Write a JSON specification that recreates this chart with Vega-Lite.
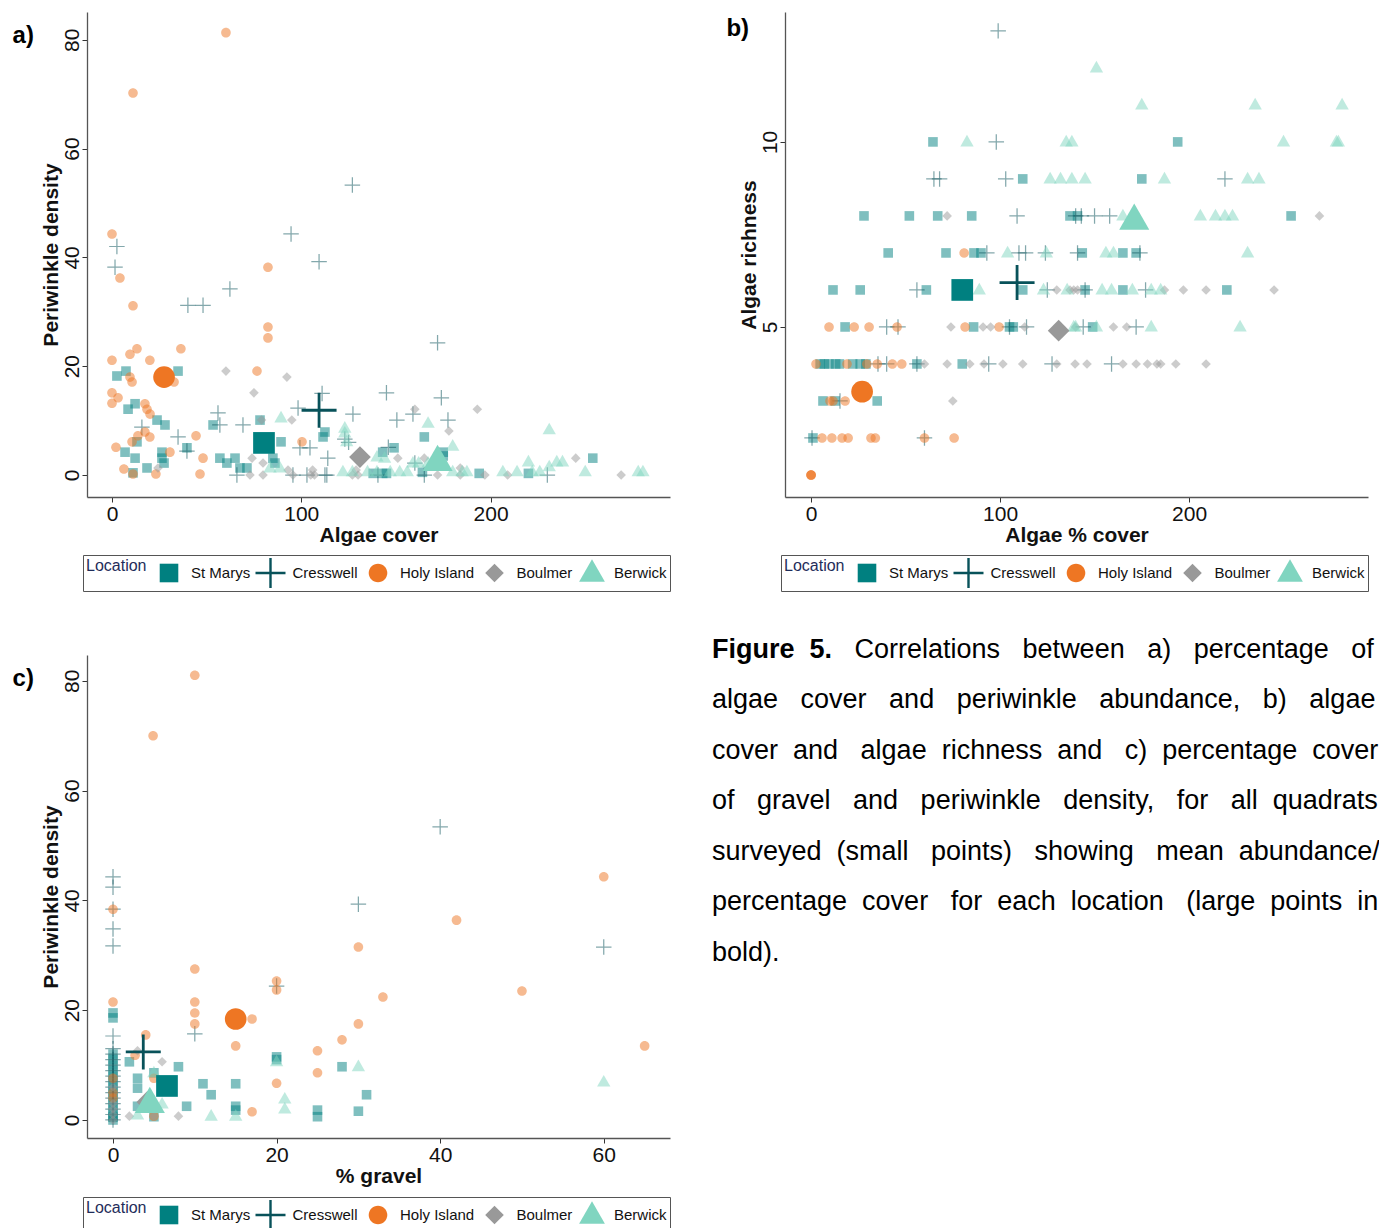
{
"$schema": "https://vega.github.io/schema/vega-lite/v6.json",
"padding": {"left": 12, "top": 12, "right": 0, "bottom": 0},
"background": "white",
"datasets": {
"a": [
{"l":"St Marys","x":2.6,"y":18.2,"k":0},{"l":"St Marys","x":7.4,"y":19.1,"k":0},{"l":"St Marys","x":34.9,"y":19.1,"k":0},{"l":"St Marys","x":8.5,"y":12.1,"k":0},{"l":"St Marys","x":12.2,"y":13.1,"k":0},{"l":"St Marys","x":23.8,"y":10.1,"k":0},{"l":"St Marys","x":28,"y":9.2,"k":0},{"l":"St Marys","x":13.2,"y":6.1,"k":0},{"l":"St Marys","x":39.6,"y":5,"k":0},{"l":"St Marys","x":53.4,"y":9.2,"k":0},{"l":"St Marys","x":78.2,"y":10.1,"k":0},{"l":"St Marys","x":89.3,"y":6.1,"k":0},{"l":"St Marys","x":112.5,"y":7.9,"k":0},{"l":"St Marys","x":111.5,"y":7,"k":0},{"l":"St Marys","x":57,"y":3.1,"k":0},{"l":"St Marys","x":60.7,"y":2.2,"k":0},{"l":"St Marys","x":65,"y":3.1,"k":0},{"l":"St Marys","x":67.6,"y":1.3,"k":0},{"l":"St Marys","x":71.3,"y":1.3,"k":0},{"l":"St Marys","x":86.1,"y":2.2,"k":0},{"l":"St Marys","x":85,"y":3.1,"k":0},{"l":"St Marys","x":6.9,"y":4.2,"k":0},{"l":"St Marys","x":12.2,"y":3.1,"k":0},{"l":"St Marys","x":18.5,"y":1.3,"k":0},{"l":"St Marys","x":26.4,"y":4.2,"k":0},{"l":"St Marys","x":27.5,"y":2.2,"k":0},{"l":"St Marys","x":26.4,"y":3.1,"k":0},{"l":"St Marys","x":11.1,"y":0.4,"k":0},{"l":"St Marys","x":165,"y":7,"k":0},{"l":"St Marys","x":149,"y":5,"k":0},{"l":"St Marys","x":143,"y":4.2,"k":0},{"l":"St Marys","x":175,"y":4.2,"k":0},{"l":"St Marys","x":175,"y":3.5,"k":0},{"l":"St Marys","x":138,"y":0.3,"k":0},{"l":"St Marys","x":143,"y":0.3,"k":0},{"l":"St Marys","x":145,"y":0.3,"k":0},{"l":"St Marys","x":194,"y":0.3,"k":0},{"l":"St Marys","x":220,"y":0.3,"k":0},{"l":"St Marys","x":164,"y":0.5,"k":0},{"l":"St Marys","x":254,"y":3.1,"k":0},
{"l":"Cresswell","x":2.6,"y":42,"k":0},{"l":"Cresswell","x":1.6,"y":38.2,"k":0},{"l":"Cresswell","x":94.6,"y":44.3,"k":0},{"l":"Cresswell","x":127,"y":53.3,"k":0},{"l":"Cresswell","x":62.3,"y":34.2,"k":0},{"l":"Cresswell","x":40.1,"y":31.2,"k":0},{"l":"Cresswell","x":48.1,"y":31.2,"k":0},{"l":"Cresswell","x":109.4,"y":39.2,"k":0},{"l":"Cresswell","x":15.8,"y":8.8,"k":0},{"l":"Cresswell","x":34.9,"y":7,"k":0},{"l":"Cresswell","x":56,"y":11.4,"k":0},{"l":"Cresswell","x":57,"y":9.2,"k":0},{"l":"Cresswell","x":69.2,"y":9.2,"k":0},{"l":"Cresswell","x":98.3,"y":12.3,"k":0},{"l":"Cresswell","x":127.3,"y":11.2,"k":0},{"l":"Cresswell","x":123,"y":6.6,"k":0},{"l":"Cresswell","x":125,"y":6,"k":0},{"l":"Cresswell","x":114,"y":3.1,"k":0},{"l":"Cresswell","x":99.3,"y":5,"k":0},{"l":"Cresswell","x":104.6,"y":5,"k":0},{"l":"Cresswell","x":39.6,"y":4.4,"k":0},{"l":"Cresswell","x":66,"y":0,"k":0},{"l":"Cresswell","x":95.6,"y":0,"k":0},{"l":"Cresswell","x":103,"y":0,"k":0},{"l":"Cresswell","x":112.5,"y":0,"k":0},{"l":"Cresswell","x":172,"y":24.3,"k":0},{"l":"Cresswell","x":145,"y":15.1,"k":0},{"l":"Cresswell","x":174,"y":14.2,"k":0},{"l":"Cresswell","x":150.5,"y":10.1,"k":0},{"l":"Cresswell","x":177.5,"y":10.1,"k":0},{"l":"Cresswell","x":159,"y":11.2,"k":0},{"l":"Cresswell","x":146,"y":5.1,"k":0},{"l":"Cresswell","x":160,"y":2.2,"k":0},{"l":"Cresswell","x":113.5,"y":0,"k":0},{"l":"Cresswell","x":140.5,"y":0,"k":0},{"l":"Cresswell","x":165,"y":0,"k":0},{"l":"Cresswell","x":230,"y":0,"k":0},{"l":"Cresswell","x":111,"y":15,"k":0},
{"l":"Holy Island","x":60.2,"y":81.3,"k":0},{"l":"Holy Island","x":11.1,"y":70.2,"k":0},{"l":"Holy Island","x":0,"y":44.3,"k":0},{"l":"Holy Island","x":4.2,"y":36.2,"k":0},{"l":"Holy Island","x":11.1,"y":31.1,"k":0},{"l":"Holy Island","x":82.4,"y":38.2,"k":0},{"l":"Holy Island","x":82.4,"y":27.2,"k":0},{"l":"Holy Island","x":82.4,"y":25.2,"k":0},{"l":"Holy Island","x":0,"y":21.1,"k":0},{"l":"Holy Island","x":9.5,"y":22.2,"k":0},{"l":"Holy Island","x":13.2,"y":23.2,"k":0},{"l":"Holy Island","x":20,"y":21.1,"k":0},{"l":"Holy Island","x":36.4,"y":23.2,"k":0},{"l":"Holy Island","x":9.5,"y":18,"k":0},{"l":"Holy Island","x":10.6,"y":17.1,"k":0},{"l":"Holy Island","x":32.8,"y":17.1,"k":0},{"l":"Holy Island","x":0,"y":15.1,"k":0},{"l":"Holy Island","x":3.2,"y":14.2,"k":0},{"l":"Holy Island","x":0,"y":13.2,"k":0},{"l":"Holy Island","x":17.4,"y":13.1,"k":0},{"l":"Holy Island","x":18.5,"y":12.1,"k":0},{"l":"Holy Island","x":20.1,"y":11.2,"k":0},{"l":"Holy Island","x":17.4,"y":7.9,"k":0},{"l":"Holy Island","x":20,"y":7,"k":0},{"l":"Holy Island","x":13.7,"y":7.2,"k":0},{"l":"Holy Island","x":10.6,"y":6.1,"k":0},{"l":"Holy Island","x":44.4,"y":7.2,"k":0},{"l":"Holy Island","x":2.1,"y":5.1,"k":0},{"l":"Holy Island","x":6.3,"y":1.1,"k":0},{"l":"Holy Island","x":11.1,"y":0.2,"k":0},{"l":"Holy Island","x":23.2,"y":0.2,"k":0},{"l":"Holy Island","x":30.6,"y":4.2,"k":0},{"l":"Holy Island","x":46.5,"y":0.2,"k":0},{"l":"Holy Island","x":48.1,"y":3.1,"k":0},{"l":"Holy Island","x":100.4,"y":6.1,"k":0},{"l":"Holy Island","x":76.6,"y":19.1,"k":0},
{"l":"Boulmer","x":60.2,"y":19.1,"k":0},{"l":"Boulmer","x":92.4,"y":18,"k":0},{"l":"Boulmer","x":75,"y":15.1,"k":0},{"l":"Boulmer","x":95,"y":10.1,"k":0},{"l":"Boulmer","x":79,"y":10.1,"k":0},{"l":"Boulmer","x":24.3,"y":1.3,"k":0},{"l":"Boulmer","x":74,"y":3.1,"k":0},{"l":"Boulmer","x":79.8,"y":2.2,"k":0},{"l":"Boulmer","x":72.9,"y":0,"k":0},{"l":"Boulmer","x":79.8,"y":0,"k":0},{"l":"Boulmer","x":93,"y":0.9,"k":0},{"l":"Boulmer","x":95.6,"y":0,"k":0},{"l":"Boulmer","x":106,"y":0.9,"k":0},{"l":"Boulmer","x":107,"y":0,"k":0},{"l":"Boulmer","x":129,"y":0.9,"k":0},{"l":"Boulmer","x":127,"y":0,"k":0},{"l":"Boulmer","x":160,"y":12.1,"k":0},{"l":"Boulmer","x":193,"y":12.1,"k":0},{"l":"Boulmer","x":178,"y":8.1,"k":0},{"l":"Boulmer","x":151,"y":3.1,"k":0},{"l":"Boulmer","x":165,"y":3.1,"k":0},{"l":"Boulmer","x":245,"y":3.1,"k":0},{"l":"Boulmer","x":105,"y":0,"k":0},{"l":"Boulmer","x":130,"y":0,"k":0},{"l":"Boulmer","x":172,"y":0,"k":0},{"l":"Boulmer","x":184,"y":0,"k":0},{"l":"Boulmer","x":197,"y":0,"k":0},{"l":"Boulmer","x":209,"y":0,"k":0},{"l":"Boulmer","x":269,"y":0,"k":0},{"l":"Boulmer","x":184,"y":1.3,"k":0},
{"l":"Berwick","x":89.3,"y":10.5,"k":0},{"l":"Berwick","x":123,"y":8.6,"k":0},{"l":"Berwick","x":123,"y":7.7,"k":0},{"l":"Berwick","x":124,"y":6.1,"k":0},{"l":"Berwick","x":83.5,"y":1.3,"k":0},{"l":"Berwick","x":88.7,"y":1.3,"k":0},{"l":"Berwick","x":122,"y":0.6,"k":0},{"l":"Berwick","x":167,"y":9.5,"k":0},{"l":"Berwick","x":231,"y":8.3,"k":0},{"l":"Berwick","x":180,"y":5.3,"k":0},{"l":"Berwick","x":140,"y":3.3,"k":0},{"l":"Berwick","x":144,"y":3.1,"k":0},{"l":"Berwick","x":159,"y":2.2,"k":0},{"l":"Berwick","x":162,"y":2.2,"k":0},{"l":"Berwick","x":167,"y":2.2,"k":0},{"l":"Berwick","x":220,"y":2.4,"k":0},{"l":"Berwick","x":235,"y":2.4,"k":0},{"l":"Berwick","x":238,"y":2.4,"k":0},{"l":"Berwick","x":231,"y":1.5,"k":0},{"l":"Berwick","x":127,"y":0.6,"k":0},{"l":"Berwick","x":135,"y":0.6,"k":0},{"l":"Berwick","x":140,"y":0.6,"k":0},{"l":"Berwick","x":147,"y":0.6,"k":0},{"l":"Berwick","x":152,"y":0.6,"k":0},{"l":"Berwick","x":156,"y":0.6,"k":0},{"l":"Berwick","x":180,"y":0.6,"k":0},{"l":"Berwick","x":185,"y":0.6,"k":0},{"l":"Berwick","x":187.5,"y":0.6,"k":0},{"l":"Berwick","x":206.5,"y":0.6,"k":0},{"l":"Berwick","x":214,"y":0.6,"k":0},{"l":"Berwick","x":222,"y":0.6,"k":0},{"l":"Berwick","x":226,"y":0.6,"k":0},{"l":"Berwick","x":250,"y":0.6,"k":0},{"l":"Berwick","x":278,"y":0.6,"k":0},{"l":"Berwick","x":280.5,"y":0.6,"k":0},
{"l":"St Marys","x":80.3,"y":5.9,"k":1},{"l":"Cresswell","x":109.4,"y":11.9,"k":1},{"l":"Holy Island","x":27.5,"y":18,"k":1},{"l":"Boulmer","x":131,"y":3.3,"k":1},{"l":"Berwick","x":172,"y":2.6,"k":1}
],
"b": [
{"l":"St Marys","x":64.5,"y":10,"k":0},{"l":"St Marys","x":194,"y":10,"k":0},{"l":"St Marys","x":112,"y":9,"k":0},{"l":"St Marys","x":175,"y":9,"k":0},{"l":"St Marys","x":28,"y":8,"k":0},{"l":"St Marys","x":52,"y":8,"k":0},{"l":"St Marys","x":67,"y":8,"k":0},{"l":"St Marys","x":85,"y":8,"k":0},{"l":"St Marys","x":137,"y":8,"k":0},{"l":"St Marys","x":141,"y":8,"k":0},{"l":"St Marys","x":254,"y":8,"k":0},{"l":"St Marys","x":40.8,"y":7,"k":0},{"l":"St Marys","x":71.4,"y":7,"k":0},{"l":"St Marys","x":86.2,"y":7,"k":0},{"l":"St Marys","x":89.9,"y":7,"k":0},{"l":"St Marys","x":143.5,"y":7,"k":0},{"l":"St Marys","x":165,"y":7,"k":0},{"l":"St Marys","x":172,"y":7,"k":0},{"l":"St Marys","x":11.6,"y":6,"k":0},{"l":"St Marys","x":26,"y":6,"k":0},{"l":"St Marys","x":61,"y":6,"k":0},{"l":"St Marys","x":112,"y":6,"k":0},{"l":"St Marys","x":145,"y":6,"k":0},{"l":"St Marys","x":165,"y":6,"k":0},{"l":"St Marys","x":220,"y":6,"k":0},{"l":"St Marys","x":18,"y":5,"k":0},{"l":"St Marys","x":86,"y":5,"k":0},{"l":"St Marys","x":105,"y":5,"k":0},{"l":"St Marys","x":107,"y":5,"k":0},{"l":"St Marys","x":149,"y":5,"k":0},{"l":"St Marys","x":4.8,"y":4,"k":0},{"l":"St Marys","x":7,"y":4,"k":0},{"l":"St Marys","x":9.5,"y":4,"k":0},{"l":"St Marys","x":13,"y":4,"k":0},{"l":"St Marys","x":15,"y":4,"k":0},{"l":"St Marys","x":22,"y":4,"k":0},{"l":"St Marys","x":26,"y":4,"k":0},{"l":"St Marys","x":29,"y":4,"k":0},{"l":"St Marys","x":56,"y":4,"k":0},{"l":"St Marys","x":80,"y":4,"k":0},{"l":"St Marys","x":6.3,"y":3,"k":0},{"l":"St Marys","x":12.7,"y":3,"k":0},{"l":"St Marys","x":35,"y":3,"k":0},{"l":"St Marys","x":1,"y":2,"k":0},
{"l":"Cresswell","x":99,"y":13,"k":0},{"l":"Cresswell","x":98,"y":10,"k":0},{"l":"Cresswell","x":65,"y":9,"k":0},{"l":"Cresswell","x":68,"y":9,"k":0},{"l":"Cresswell","x":103,"y":9,"k":0},{"l":"Cresswell","x":219,"y":9,"k":0},{"l":"Cresswell","x":109,"y":8,"k":0},{"l":"Cresswell","x":143,"y":8,"k":0},{"l":"Cresswell","x":150,"y":8,"k":0},{"l":"Cresswell","x":140,"y":8,"k":0},{"l":"Cresswell","x":158,"y":8,"k":0},{"l":"Cresswell","x":93,"y":7,"k":0},{"l":"Cresswell","x":110,"y":7,"k":0},{"l":"Cresswell","x":113.5,"y":7,"k":0},{"l":"Cresswell","x":124,"y":7,"k":0},{"l":"Cresswell","x":141,"y":7,"k":0},{"l":"Cresswell","x":174,"y":7,"k":0},{"l":"Cresswell","x":56,"y":6,"k":0},{"l":"Cresswell","x":125,"y":6,"k":0},{"l":"Cresswell","x":145,"y":6,"k":0},{"l":"Cresswell","x":177,"y":6,"k":0},{"l":"Cresswell","x":40,"y":5,"k":0},{"l":"Cresswell","x":46,"y":5,"k":0},{"l":"Cresswell","x":105,"y":5,"k":0},{"l":"Cresswell","x":114,"y":5,"k":0},{"l":"Cresswell","x":144,"y":5,"k":0},{"l":"Cresswell","x":172,"y":5,"k":0},{"l":"Cresswell","x":35.4,"y":4,"k":0},{"l":"Cresswell","x":40,"y":4,"k":0},{"l":"Cresswell","x":56,"y":4,"k":0},{"l":"Cresswell","x":94,"y":4,"k":0},{"l":"Cresswell","x":127.5,"y":4,"k":0},{"l":"Cresswell","x":159,"y":4,"k":0},{"l":"Cresswell","x":15.3,"y":3,"k":0},{"l":"Cresswell","x":0.5,"y":2,"k":0},{"l":"Cresswell","x":60,"y":2,"k":0},
{"l":"Holy Island","x":81,"y":7,"k":0},{"l":"Holy Island","x":9.5,"y":5,"k":0},{"l":"Holy Island","x":22.8,"y":5,"k":0},{"l":"Holy Island","x":30.7,"y":5,"k":0},{"l":"Holy Island","x":45.5,"y":5,"k":0},{"l":"Holy Island","x":81.5,"y":5,"k":0},{"l":"Holy Island","x":99.5,"y":5,"k":0},{"l":"Holy Island","x":2.6,"y":4,"k":0},{"l":"Holy Island","x":19,"y":4,"k":0},{"l":"Holy Island","x":29.5,"y":4,"k":0},{"l":"Holy Island","x":35,"y":4,"k":0},{"l":"Holy Island","x":43,"y":4,"k":0},{"l":"Holy Island","x":48,"y":4,"k":0},{"l":"Holy Island","x":10,"y":3,"k":0},{"l":"Holy Island","x":11.6,"y":3,"k":0},{"l":"Holy Island","x":18,"y":3,"k":0},{"l":"Holy Island","x":5.8,"y":2,"k":0},{"l":"Holy Island","x":11,"y":2,"k":0},{"l":"Holy Island","x":16.4,"y":2,"k":0},{"l":"Holy Island","x":19.6,"y":2,"k":0},{"l":"Holy Island","x":31.7,"y":2,"k":0},{"l":"Holy Island","x":34,"y":2,"k":0},{"l":"Holy Island","x":60,"y":2,"k":0},{"l":"Holy Island","x":75.7,"y":2,"k":0},{"l":"Holy Island","x":0,"y":1,"k":0},{"l":"Holy Island","x":0,"y":1,"k":0},{"l":"Holy Island","x":0,"y":1,"k":0},
{"l":"Boulmer","x":72,"y":8,"k":0},{"l":"Boulmer","x":269,"y":8,"k":0},{"l":"Boulmer","x":130,"y":6,"k":0},{"l":"Boulmer","x":137,"y":6,"k":0},{"l":"Boulmer","x":139,"y":6,"k":0},{"l":"Boulmer","x":141,"y":6,"k":0},{"l":"Boulmer","x":187,"y":6,"k":0},{"l":"Boulmer","x":197,"y":6,"k":0},{"l":"Boulmer","x":209,"y":6,"k":0},{"l":"Boulmer","x":245,"y":6,"k":0},{"l":"Boulmer","x":74,"y":5,"k":0},{"l":"Boulmer","x":91,"y":5,"k":0},{"l":"Boulmer","x":95,"y":5,"k":0},{"l":"Boulmer","x":113,"y":5,"k":0},{"l":"Boulmer","x":140,"y":5,"k":0},{"l":"Boulmer","x":160,"y":5,"k":0},{"l":"Boulmer","x":167,"y":5,"k":0},{"l":"Boulmer","x":60,"y":4,"k":0},{"l":"Boulmer","x":72,"y":4,"k":0},{"l":"Boulmer","x":84,"y":4,"k":0},{"l":"Boulmer","x":91.5,"y":4,"k":0},{"l":"Boulmer","x":101.5,"y":4,"k":0},{"l":"Boulmer","x":112,"y":4,"k":0},{"l":"Boulmer","x":130,"y":4,"k":0},{"l":"Boulmer","x":139.7,"y":4,"k":0},{"l":"Boulmer","x":146,"y":4,"k":0},{"l":"Boulmer","x":165,"y":4,"k":0},{"l":"Boulmer","x":172,"y":4,"k":0},{"l":"Boulmer","x":178,"y":4,"k":0},{"l":"Boulmer","x":183,"y":4,"k":0},{"l":"Boulmer","x":185,"y":4,"k":0},{"l":"Boulmer","x":193,"y":4,"k":0},{"l":"Boulmer","x":209,"y":4,"k":0},{"l":"Boulmer","x":75,"y":3,"k":0},
{"l":"Berwick","x":151,"y":12,"k":0},{"l":"Berwick","x":175,"y":11,"k":0},{"l":"Berwick","x":235,"y":11,"k":0},{"l":"Berwick","x":281,"y":11,"k":0},{"l":"Berwick","x":82.5,"y":10,"k":0},{"l":"Berwick","x":135,"y":10,"k":0},{"l":"Berwick","x":138,"y":10,"k":0},{"l":"Berwick","x":250,"y":10,"k":0},{"l":"Berwick","x":278,"y":10,"k":0},{"l":"Berwick","x":279,"y":10,"k":0},{"l":"Berwick","x":126.5,"y":9,"k":0},{"l":"Berwick","x":132,"y":9,"k":0},{"l":"Berwick","x":138,"y":9,"k":0},{"l":"Berwick","x":145,"y":9,"k":0},{"l":"Berwick","x":187,"y":9,"k":0},{"l":"Berwick","x":231,"y":9,"k":0},{"l":"Berwick","x":237,"y":9,"k":0},{"l":"Berwick","x":165,"y":8,"k":0},{"l":"Berwick","x":206,"y":8,"k":0},{"l":"Berwick","x":214,"y":8,"k":0},{"l":"Berwick","x":219,"y":8,"k":0},{"l":"Berwick","x":223,"y":8,"k":0},{"l":"Berwick","x":104,"y":7,"k":0},{"l":"Berwick","x":124.5,"y":7,"k":0},{"l":"Berwick","x":156,"y":7,"k":0},{"l":"Berwick","x":160,"y":7,"k":0},{"l":"Berwick","x":231,"y":7,"k":0},{"l":"Berwick","x":89,"y":6,"k":0},{"l":"Berwick","x":123,"y":6,"k":0},{"l":"Berwick","x":135.5,"y":6,"k":0},{"l":"Berwick","x":154,"y":6,"k":0},{"l":"Berwick","x":159,"y":6,"k":0},{"l":"Berwick","x":170,"y":6,"k":0},{"l":"Berwick","x":180,"y":6,"k":0},{"l":"Berwick","x":185,"y":6,"k":0},{"l":"Berwick","x":139,"y":5,"k":0},{"l":"Berwick","x":140,"y":5,"k":0},{"l":"Berwick","x":151,"y":5,"k":0},{"l":"Berwick","x":180,"y":5,"k":0},{"l":"Berwick","x":227,"y":5,"k":0},
{"l":"St Marys","x":80,"y":6,"k":1},{"l":"Cresswell","x":109,"y":6.2,"k":1},{"l":"Holy Island","x":27,"y":3.25,"k":1},{"l":"Boulmer","x":131,"y":4.9,"k":1},{"l":"Berwick","x":171,"y":7.9,"k":1}
],
"c": [
{"l":"St Marys","x":0,"y":0,"k":0},{"l":"St Marys","x":0,"y":0.5,"k":0},{"l":"St Marys","x":0,"y":1,"k":0},{"l":"St Marys","x":0,"y":2,"k":0},{"l":"St Marys","x":0,"y":3,"k":0},{"l":"St Marys","x":0,"y":4,"k":0},{"l":"St Marys","x":0,"y":5,"k":0},{"l":"St Marys","x":0,"y":6,"k":0},{"l":"St Marys","x":0,"y":7,"k":0},{"l":"St Marys","x":0,"y":8,"k":0},{"l":"St Marys","x":0,"y":9,"k":0},{"l":"St Marys","x":0,"y":10,"k":0},{"l":"St Marys","x":0,"y":11,"k":0},{"l":"St Marys","x":0,"y":12,"k":0},{"l":"St Marys","x":0,"y":18.6,"k":0},{"l":"St Marys","x":0,"y":19.5,"k":0},{"l":"St Marys","x":2,"y":10.6,"k":0},{"l":"St Marys","x":3,"y":7.6,"k":0},{"l":"St Marys","x":3,"y":5.8,"k":0},{"l":"St Marys","x":5,"y":8.6,"k":0},{"l":"St Marys","x":8,"y":9.7,"k":0},{"l":"St Marys","x":11,"y":6.6,"k":0},{"l":"St Marys","x":12,"y":4.6,"k":0},{"l":"St Marys","x":9,"y":2.5,"k":0},{"l":"St Marys","x":3,"y":2.5,"k":0},{"l":"St Marys","x":5,"y":0.6,"k":0},{"l":"St Marys","x":15,"y":6.6,"k":0},{"l":"St Marys","x":15,"y":2.5,"k":0},{"l":"St Marys","x":15,"y":1.8,"k":0},{"l":"St Marys","x":20,"y":11.5,"k":0},{"l":"St Marys","x":20,"y":11,"k":0},{"l":"St Marys","x":25,"y":1.8,"k":0},{"l":"St Marys","x":25,"y":0.6,"k":0},{"l":"St Marys","x":28,"y":9.7,"k":0},{"l":"St Marys","x":31,"y":4.6,"k":0},{"l":"St Marys","x":30,"y":1.6,"k":0},
{"l":"Cresswell","x":0,"y":0,"k":0},{"l":"Cresswell","x":0,"y":1,"k":0},{"l":"Cresswell","x":0,"y":2,"k":0},{"l":"Cresswell","x":0,"y":3,"k":0},{"l":"Cresswell","x":0,"y":4,"k":0},{"l":"Cresswell","x":0,"y":5,"k":0},{"l":"Cresswell","x":0,"y":6,"k":0},{"l":"Cresswell","x":0,"y":7,"k":0},{"l":"Cresswell","x":0,"y":8,"k":0},{"l":"Cresswell","x":0,"y":9,"k":0},{"l":"Cresswell","x":0,"y":10,"k":0},{"l":"Cresswell","x":0,"y":11,"k":0},{"l":"Cresswell","x":0,"y":12,"k":0},{"l":"Cresswell","x":0,"y":13,"k":0},{"l":"Cresswell","x":0,"y":15.3,"k":0},{"l":"Cresswell","x":0,"y":31.7,"k":0},{"l":"Cresswell","x":0,"y":34.8,"k":0},{"l":"Cresswell","x":0,"y":38.4,"k":0},{"l":"Cresswell","x":0,"y":42.4,"k":0},{"l":"Cresswell","x":0,"y":44.3,"k":0},{"l":"Cresswell","x":40,"y":53.4,"k":0},{"l":"Cresswell","x":30,"y":39.3,"k":0},{"l":"Cresswell","x":60,"y":31.5,"k":0},{"l":"Cresswell","x":20,"y":24.4,"k":0},{"l":"Cresswell","x":10,"y":15.7,"k":0},
{"l":"Holy Island","x":10,"y":81,"k":0},{"l":"Holy Island","x":4.9,"y":70,"k":0},{"l":"Holy Island","x":60,"y":44.3,"k":0},{"l":"Holy Island","x":0,"y":38.4,"k":0},{"l":"Holy Island","x":42,"y":36.4,"k":0},{"l":"Holy Island","x":30,"y":31.5,"k":0},{"l":"Holy Island","x":10,"y":27.5,"k":0},{"l":"Holy Island","x":33,"y":22.4,"k":0},{"l":"Holy Island","x":50,"y":23.5,"k":0},{"l":"Holy Island","x":20,"y":25.3,"k":0},{"l":"Holy Island","x":20,"y":23.7,"k":0},{"l":"Holy Island","x":65,"y":13.5,"k":0},{"l":"Holy Island","x":0,"y":21.5,"k":0},{"l":"Holy Island","x":10,"y":21.5,"k":0},{"l":"Holy Island","x":10,"y":19.5,"k":0},{"l":"Holy Island","x":10,"y":17.5,"k":0},{"l":"Holy Island","x":17,"y":18.4,"k":0},{"l":"Holy Island","x":15,"y":13.5,"k":0},{"l":"Holy Island","x":25,"y":12.6,"k":0},{"l":"Holy Island","x":25,"y":8.6,"k":0},{"l":"Holy Island","x":28,"y":14.6,"k":0},{"l":"Holy Island","x":30,"y":17.5,"k":0},{"l":"Holy Island","x":4,"y":15.5,"k":0},{"l":"Holy Island","x":2.7,"y":11.8,"k":0},{"l":"Holy Island","x":5,"y":7.6,"k":0},{"l":"Holy Island","x":20,"y":6.7,"k":0},{"l":"Holy Island","x":17,"y":1.5,"k":0},{"l":"Holy Island","x":5,"y":0.7,"k":0},{"l":"Holy Island","x":0,"y":7.6,"k":0},{"l":"Holy Island","x":0,"y":5,"k":0},{"l":"Holy Island","x":0,"y":4,"k":0},
{"l":"Boulmer","x":2,"y":0.7,"k":0},{"l":"Boulmer","x":3,"y":12.6,"k":0},{"l":"Boulmer","x":6,"y":10.6,"k":0},{"l":"Boulmer","x":8,"y":0.7,"k":0},{"l":"Boulmer","x":5,"y":0.7,"k":0},{"l":"Boulmer","x":0,"y":0,"k":0},{"l":"Boulmer","x":0,"y":1,"k":0},{"l":"Boulmer","x":0,"y":2,"k":0},{"l":"Boulmer","x":0,"y":3,"k":0},{"l":"Boulmer","x":0,"y":6,"k":0},
{"l":"Berwick","x":5,"y":8.6,"k":0},{"l":"Berwick","x":6,"y":2.9,"k":0},{"l":"Berwick","x":12,"y":0.7,"k":0},{"l":"Berwick","x":15,"y":0.7,"k":0},{"l":"Berwick","x":20,"y":10.6,"k":0},{"l":"Berwick","x":21,"y":3.8,"k":0},{"l":"Berwick","x":21,"y":2,"k":0},{"l":"Berwick","x":30,"y":9.7,"k":0},{"l":"Berwick","x":3,"y":0.9,"k":0},{"l":"Berwick","x":60,"y":6.9,"k":0},
{"l":"St Marys","x":6.6,"y":6.2,"k":1},{"l":"Cresswell","x":3.7,"y":12.4,"k":1},{"l":"Holy Island","x":15,"y":18.4,"k":1},{"l":"Boulmer","x":4.2,"y":3.3,"k":1},{"l":"Berwick","x":4.5,"y":3.1,"k":1}
],
"cap": [
{"c":0,"line":1,"t":"\u200b\u00a0\u00a0\u00a0\u00a0\u00a0\u00a0\u00a0\u00a0\u00a0\u00a0\u00a0\u00a0\u00a0\u00a0\u00a0\u00a0\u00a0\u00a0\u00a0Correlations \u00a0\u00a0between \u00a0\u00a0a) \u00a0\u00a0percentage \u00a0\u00a0of"},
{"c":0,"line":2,"t":"algae \u00a0\u00a0cover \u00a0\u00a0and \u00a0\u00a0periwinkle \u00a0\u00a0abundance, \u00a0\u00a0b) \u00a0\u00a0algae"},
{"c":0,"line":3,"t":"cover \u00a0and \u00a0\u00a0algae \u00a0richness \u00a0and \u00a0\u00a0c) \u00a0percentage \u00a0cover"},
{"c":0,"line":4,"t":"of \u00a0\u00a0gravel \u00a0\u00a0and \u00a0\u00a0periwinkle \u00a0\u00a0density, \u00a0\u00a0for \u00a0\u00a0all \u00a0quadrats"},
{"c":0,"line":5,"t":"surveyed \u00a0(small \u00a0\u00a0points) \u00a0\u00a0showing \u00a0\u00a0mean \u00a0abundance/"},
{"c":0,"line":6,"t":"percentage \u00a0cover \u00a0\u00a0for \u00a0each \u00a0location \u00a0\u00a0(large \u00a0points \u00a0in"},
{"c":0,"line":7,"t":"bold)."}
],
"capb": [
{"c":0,"line":1,"t":"Figure\u00a0\u00a05."}
]
},
"vconcat": [
{"hconcat": [
{"width": 583, "height": 485,
"title": {"text": "a)", "anchor": "end", "frame": "group", "orient": "left", "angle": 0, "offset": -15.3, "dy": 31, "baseline": "alphabetic", "fontSize": 24, "fontWeight": "bold", "color": "#000000"},
"data": {"name": "a"},
"mark": {"type": "point", "filled": true},
"encoding": {
"x": {"field": "x", "type": "quantitative", "title": "Algae cover", "scale": {"domain": [-13.2, 294.8], "nice": false, "zero": false}, "axis": {"values": [0, 100, 200]}},
"y": {"field": "y", "type": "quantitative", "title": "Periwinkle density", "scale": {"domain": [-4.04, 85.1], "nice": false, "zero": false}, "axis": {"values": [0, 20, 40, 60, 80]}},
"color": {"field": "l", "type": "nominal", "title": "Location", "scale": {"domain": ["St Marys","Cresswell","Holy Island","Boulmer","Berwick"], "range": ["#008080","#08525a","#ee7623","#999999","#80d5c0"]}, "legend": {"legendX": -4, "legendY": 543}},
"shape": {"field": "l", "type": "nominal", "title": "Location", "scale": {"domain": ["St Marys","Cresswell","Holy Island","Boulmer","Berwick"], "range": ["M-0.62,-0.62H0.62V0.62H-0.62Z M0,-1 M0,1","M-1,-0.08H1V0.08H-1Z M-0.08,-1H0.08V1H-0.08Z","M-0.62,0A0.62,0.62,0,1,1,0.62,0A0.62,0.62,0,1,1,-0.62,0Z M0,-1 M0,1","M0,-0.62L0.62,0L0,0.62L-0.62,0Z M0,-1 M0,1","M0,-0.92L0.86,0.58L-0.86,0.58Z M0,-1 M0,1"]}, "legend": {"legendX": -4, "legendY": 543}},
"size": {"field": "k", "type": "quantitative", "scale": {"domain": [0, 1], "range": [240, 1225]}, "legend": null},
"opacity": {"field": "k", "type": "quantitative", "scale": {"domain": [0, 1], "range": [0.5, 1]}, "legend": null}
}},
{"width": 583, "height": 485,
"title": {"text": "b)", "anchor": "end", "frame": "group", "orient": "left", "angle": 0, "offset": -33.7, "dy": 24, "baseline": "alphabetic", "fontSize": 24, "fontWeight": "bold", "color": "#000000"},
"data": {"name": "b"},
"mark": {"type": "point", "filled": true},
"encoding": {
"x": {"field": "x", "type": "quantitative", "title": "Algae % cover", "scale": {"domain": [-13.8, 294.7], "nice": false, "zero": false}, "axis": {"values": [0, 100, 200]}},
"y": {"field": "y", "type": "quantitative", "title": "Algae richness", "scale": {"domain": [0.405, 13.51], "nice": false, "zero": false}, "axis": {"values": [5, 10]}},
"color": {"field": "l", "type": "nominal", "title": "Location", "scale": {"domain": ["St Marys","Cresswell","Holy Island","Boulmer","Berwick"], "range": ["#008080","#08525a","#ee7623","#999999","#80d5c0"]}, "legend": {"legendX": -4, "legendY": 543}},
"shape": {"field": "l", "type": "nominal", "title": "Location", "scale": {"domain": ["St Marys","Cresswell","Holy Island","Boulmer","Berwick"], "range": ["M-0.62,-0.62H0.62V0.62H-0.62Z M0,-1 M0,1","M-1,-0.08H1V0.08H-1Z M-0.08,-1H0.08V1H-0.08Z","M-0.62,0A0.62,0.62,0,1,1,0.62,0A0.62,0.62,0,1,1,-0.62,0Z M0,-1 M0,1","M0,-0.62L0.62,0L0,0.62L-0.62,0Z M0,-1 M0,1","M0,-0.92L0.86,0.58L-0.86,0.58Z M0,-1 M0,1"]}, "legend": {"legendX": -4, "legendY": 543}},
"size": {"field": "k", "type": "quantitative", "scale": {"domain": [0, 1], "range": [240, 1225]}, "legend": null},
"opacity": {"field": "k", "type": "quantitative", "scale": {"domain": [0, 1], "range": [0.5, 1]}, "legend": null}
}}
],
"spacing": 115, "bounds": "flush",
"resolve": {"scale": {"color": "independent", "shape": "independent", "size": "independent", "opacity": "independent"}, "legend": {"color": "independent", "shape": "independent"}}
},
{"hconcat": [
{"width": 583, "height": 483,
"title": {"text": "c)", "anchor": "end", "frame": "group", "orient": "left", "angle": 0, "offset": -15.3, "dy": 31, "baseline": "alphabetic", "fontSize": 24, "fontWeight": "bold", "color": "#000000"},
"data": {"name": "c"},
"mark": {"type": "point", "filled": true},
"encoding": {
"x": {"field": "x", "type": "quantitative", "title": "% gravel", "scale": {"domain": [-3.18, 68.1], "nice": false, "zero": false}, "axis": {"values": [0, 20, 40, 60]}},
"y": {"field": "y", "type": "quantitative", "title": "Periwinkle density", "scale": {"domain": [-3.28, 84.7], "nice": false, "zero": false}, "axis": {"values": [0, 20, 40, 60, 80]}},
"color": {"field": "l", "type": "nominal", "title": "Location", "scale": {"domain": ["St Marys","Cresswell","Holy Island","Boulmer","Berwick"], "range": ["#008080","#08525a","#ee7623","#999999","#80d5c0"]}, "legend": {"legendX": -4, "legendY": 542}},
"shape": {"field": "l", "type": "nominal", "title": "Location", "scale": {"domain": ["St Marys","Cresswell","Holy Island","Boulmer","Berwick"], "range": ["M-0.62,-0.62H0.62V0.62H-0.62Z M0,-1 M0,1","M-1,-0.08H1V0.08H-1Z M-0.08,-1H0.08V1H-0.08Z","M-0.62,0A0.62,0.62,0,1,1,0.62,0A0.62,0.62,0,1,1,-0.62,0Z M0,-1 M0,1","M0,-0.62L0.62,0L0,0.62L-0.62,0Z M0,-1 M0,1","M0,-0.92L0.86,0.58L-0.86,0.58Z M0,-1 M0,1"]}, "legend": {"legendX": -4, "legendY": 542}},
"size": {"field": "k", "type": "quantitative", "scale": {"domain": [0, 1], "range": [240, 1225]}, "legend": null},
"opacity": {"field": "k", "type": "quantitative", "scale": {"domain": [0, 1], "range": [0.5, 1]}, "legend": null}
}},
{"width": 600, "height": 483,
"layer": [
{"data": {"name": "cap"},
"mark": {"type": "text", "align": "left", "baseline": "alphabetic", "fontSize": 27, "color": "#000000"},
"encoding": {
"x": {"field": "c", "type": "quantitative", "scale": {"domain": [0, 1], "nice": false, "zero": false}, "axis": null},
"y": {"field": "line", "type": "quantitative", "scale": {"domain": [0.9406, 10.505], "reverse": true, "nice": false, "zero": false}, "axis": null},
"text": {"field": "t"}
}},
{"data": {"name": "capb"},
"mark": {"type": "text", "align": "left", "baseline": "alphabetic", "fontSize": 27, "fontWeight": "bold", "color": "#000000"},
"encoding": {
"x": {"field": "c", "type": "quantitative", "axis": null},
"y": {"field": "line", "type": "quantitative", "axis": null},
"text": {"field": "t"}
}}
]}
],
"spacing": 42, "bounds": "flush",
"resolve": {"scale": {"color": "independent", "shape": "independent", "size": "independent", "opacity": "independent"}, "legend": {"color": "independent", "shape": "independent"}}
}
],
"spacing": 43,
"resolve": {"scale": {"color": "independent", "shape": "independent", "size": "independent", "opacity": "independent"}, "legend": {"color": "independent", "shape": "independent"}},
"config": {
"view": {"stroke": null},
"font": "Liberation Sans",
"axis": {"grid": false, "domainColor": "#555555", "domainWidth": 1.3, "tickColor": "#333333", "tickSize": 5, "tickWidth": 1, "labelFontSize": 21, "labelColor": "#111111", "titleFontSize": 21, "titleFontWeight": "bold", "titleColor": "#111111"},
"axisX": {"labelPadding": 1, "titlePadding": 0},
"axisY": {"labelAngle": 270, "labelAlign": "center", "labelBaseline": "alphabetic", "labelPadding": 4, "titlePadding": 0},
"legend": {"orient": "none", "direction": "horizontal", "titleOrient": "left", "titleAnchor": "start", "titleBaseline": "top", "titleFontSize": 16, "titleFontWeight": "normal", "titleColor": "#1f2d5a", "titlePadding": 7, "labelFontSize": 15, "labelColor": "#111111", "labelOffset": 7, "labelLimit": 300, "symbolSize": 900, "symbolStrokeWidth": 0, "symbolOpacity": 1, "columnPadding": 4.5, "padding": 3, "strokeColor": "#555555", "strokeWidth": 1, "fillColor": "white"}
}
}
